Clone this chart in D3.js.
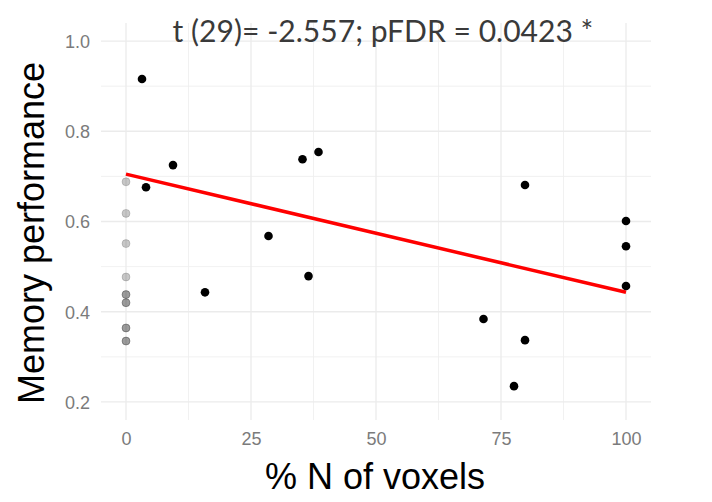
<!DOCTYPE html>
<html><head><meta charset="utf-8">
<script src="https://cdn.jsdelivr.net/npm/d3@7"></script>
<style>body{margin:0;background:#fff}svg{display:block}</style>
</head><body>
<svg id="c" width="712" height="502"></svg>
<script>
// Data
const blackX = [3.2, 4, 9.4, 15.8, 28.5, 35.3, 38.5, 36.5, 71.5, 77.6, 79.8, 79.8, 100, 100, 100];
const blackY = [0.916, 0.676, 0.725, 0.443, 0.568, 0.738, 0.754, 0.479, 0.384, 0.235, 0.681, 0.337, 0.601, 0.545, 0.457];
const greyX = [0, 0, 0, 0, 0, 0, 0, 0, 0, 0, 0, 0];
const greyY = [0.688, 0.618, 0.551, 0.477, 0.438, 0.438, 0.420, 0.420, 0.364, 0.364, 0.335, 0.335];
const fitX = [0, 100];
const fitY = [0.705, 0.443];
const xTicks = [0, 25, 50, 75, 100];
const yTicks = [0.2, 0.4, 0.6, 0.8, 1.0];
const xMinor = [12.5, 37.5, 62.5, 87.5];
const yMinor = [0.3, 0.5, 0.7, 0.9];
const annotation = "t (29)= -2.557; pFDR = 0.0423 *";
const xTitle = "% N of voxels";
const yTitle = "Memory performance";

const svg = d3.select("#c");
const x = d3.scaleLinear().domain([-5, 105]).range([101, 651]);
const y = d3.scaleLinear().domain([0.16, 1.04]).range([420, 23]);

const grid = svg.append("g");
grid.selectAll(".vmin").data(xMinor).join("line")
  .attr("x1", d => x(d)).attr("x2", d => x(d)).attr("y1", y.range()[0]).attr("y2", y.range()[1])
  .attr("stroke", "#efefef").attr("stroke-width", 0.9);
grid.selectAll(".hmin").data(yMinor).join("line")
  .attr("y1", d => y(d)).attr("y2", d => y(d)).attr("x1", x.range()[0]).attr("x2", x.range()[1])
  .attr("stroke", "#efefef").attr("stroke-width", 0.9);
grid.selectAll(".vmaj").data(xTicks).join("line")
  .attr("x1", d => x(d)).attr("x2", d => x(d)).attr("y1", y.range()[0]).attr("y2", y.range()[1])
  .attr("stroke", "#ebebeb").attr("stroke-width", 1.3);
grid.selectAll(".hmaj").data(yTicks).join("line")
  .attr("y1", d => y(d)).attr("y2", d => y(d)).attr("x1", x.range()[0]).attr("x2", x.range()[1])
  .attr("stroke", "#ebebeb").attr("stroke-width", 1.3);

// axes (labels only)
const xAxis = d3.axisBottom(x).tickValues(xTicks).tickSize(0).tickPadding(0).tickFormat(d3.format("d"));
const gx = svg.append("g").attr("transform", "translate(0,432)").call(xAxis);
const yAxis = d3.axisLeft(y).tickValues(yTicks).tickSize(0).tickPadding(0).tickFormat(d3.format(".1f"));
const gy = svg.append("g").attr("transform", "translate(90,0)").call(yAxis);
[gx, gy].forEach(g => {
  g.select(".domain").remove();
  g.selectAll("text").attr("fill", "#7b7b7b").style("font-family", "Liberation Sans, Arial, sans-serif").style("font-size", "18px");
});
gx.selectAll("text").attr("dy", "0.71em");
gy.selectAll("text").attr("dy", "0.36em");

// points
const grey = greyX.map((d, i) => ({x: d, y: greyY[i]}));
svg.append("g").selectAll("circle").data(grey).join("circle")
  .attr("cx", d => x(d.x)).attr("cy", d => y(d.y)).attr("r", 4)
  .attr("fill", "#000").attr("fill-opacity", 0.22)
  .attr("stroke", "#000").attr("stroke-opacity", 0.15).attr("stroke-width", 1);

// fit line
const fit = fitX.map((d, i) => [d, fitY[i]]);
svg.append("path").datum(fit)
  .attr("d", d3.line().x(d => x(d[0])).y(d => y(d[1])))
  .attr("fill", "none").attr("stroke", "#ff0000").attr("stroke-width", 3.5);

const black = blackX.map((d, i) => ({x: d, y: blackY[i]}));
svg.append("g").selectAll("circle").data(black).join("circle")
  .attr("cx", d => x(d.x)).attr("cy", d => y(d.y)).attr("r", 4.3)
  .attr("fill", "#000");

// annotation
const ann = svg.append("text").attr("x", 383).attr("y", 42).attr("text-anchor", "middle")
  .attr("fill", "#3a3a3a").style("font-family", "Lato, 'Open Sans', sans-serif").style("font-size", "27px")
  .text(annotation);
const w = ann.node().getComputedTextLength();
ann.style("font-size", (27 * 421 / w) + "px");

// titles
svg.append("text").attr("x", 375).attr("y", 489).attr("text-anchor", "middle")
  .attr("fill", "#000").style("font-family", "Liberation Sans, Arial, sans-serif").style("font-size", "36px")
  .text(xTitle);
svg.append("text").attr("transform", "translate(44,233) rotate(-90)").attr("text-anchor", "middle")
  .attr("fill", "#000").style("font-family", "Liberation Sans, Arial, sans-serif").style("font-size", "36px")
  .text(yTitle);
</script>
</body></html>
